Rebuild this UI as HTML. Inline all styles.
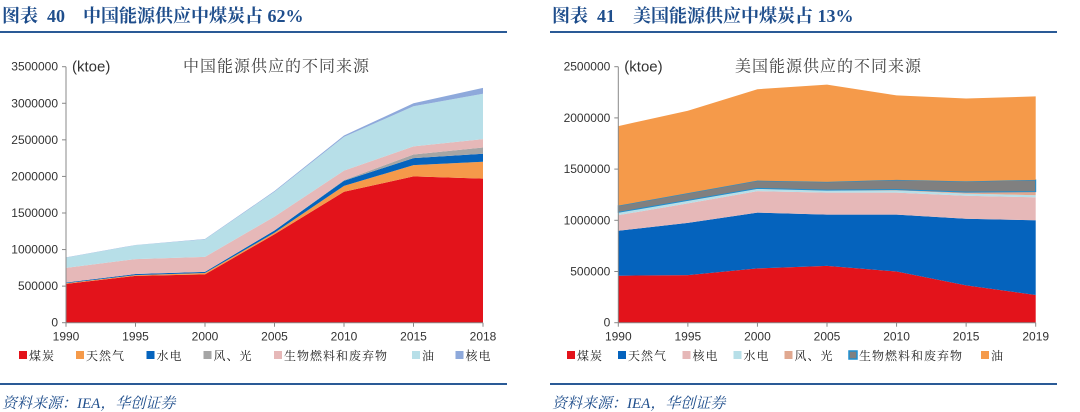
<!DOCTYPE html>
<html><head><meta charset="utf-8">
<style>
html,body{margin:0;padding:0;background:#fff;width:1080px;height:412px;overflow:hidden}
svg{display:block}
text{font-family:"Liberation Sans","Noto Sans CJK SC",sans-serif}
.h{font-family:"Liberation Serif","Noto Serif CJK SC",serif;font-weight:bold;fill:#1f4e8c;font-size:18px;white-space:pre}
.src{font-family:"Liberation Serif","Noto Serif CJK SC",serif;font-style:italic;fill:#1f4e8c;font-size:15px}
.tick{font-size:12px;fill:#333}
.lg{font-size:12px;fill:#222;font-family:"Liberation Sans","Noto Serif CJK SC",serif}
.ct{font-size:16px;fill:#444;font-family:"Noto Serif CJK SC",serif;letter-spacing:1px}
</style></head>
<body>
<svg id="s" width="1080" height="412" xmlns="http://www.w3.org/2000/svg">
<text class="h" x="2" y="22" xml:space="preserve">图表  40    中国能源供应中煤炭占 62%</text>
<line x1="0" y1="32" x2="507" y2="32" stroke="#2a5a96" stroke-width="2"/>
<text class="h" x="552" y="22" xml:space="preserve">图表  41    美国能源供应中煤炭占 13%</text>
<line x1="550" y1="32" x2="1057" y2="32" stroke="#2a5a96" stroke-width="2"/>
<line x1="0" y1="384" x2="507" y2="384" stroke="#2a5a96" stroke-width="2"/>
<line x1="550" y1="384" x2="1057" y2="384" stroke="#2a5a96" stroke-width="2"/>
<text class="src" x="2" y="408">资料来源：IEA，华创证券</text>
<text class="src" x="552" y="408">资料来源：IEA，华创证券</text>
</svg>
<script>
const cnYears=["1990","1995","2000","2005","2010","2015","2018"];
const cnNames=["煤炭","天然气","水电","风、光","生物燃料和废弃物","油","核电"];
const cnColors=["#e3131b","#f59a4a","#0563bd","#a5a5a5","#e6b8b8","#b7dfe8","#8ea9db"];
const cnCoal=[530000,640000,660000,1210000,1790000,2000000,1970000];
const cnGas=[10000,10000,20000,20000,80000,155000,230000];
const cnHydro=[10000,15000,15000,30000,70000,95000,110000];
const cnWind=[0,0,0,2000,10000,50000,85000];
const cnBio=[200000,205000,205000,188000,130000,110000,115000];
const cnOil=[140000,190000,240000,340000,460000,550000,620000];
const cnNuc=[3000,3000,4000,10000,20000,40000,80000];
const cnTicks=[0,500000,1000000,1500000,2000000,2500000,3000000,3500000];

const usYears=["1990","1995","2000","2005","2010","2015","2019"];
const usNames=["煤炭","天然气","核电","水电","风、光","生物燃料和废弃物","油"];
const usColors=["#e3131b","#0563bd","#e6b8b8","#b7dfe8","#e0a890","#808080","#f59a4a"];
const usCoal=[459000,465000,530000,555000,500000,365000,270000];
const usGas=[439000,510000,545000,500000,555000,650000,730000];
const usNuc=[152000,190000,210000,215000,215000,225000,225000];
const usHydro=[25000,25000,22000,20000,22000,20000,20000];
const usWind=[3000,5000,5000,5000,8000,15000,35000];
const usBio=[65000,70000,75000,80000,95000,105000,115000];
const usOil=[777000,805000,893000,950000,825000,810000,815000];
const usTicks=[0,500000,1000000,1500000,2000000,2500000];

const NS="http://www.w3.org/2000/svg";
const svg=document.getElementById("s");
function mk(tag,attrs,parent){const e=document.createElementNS(NS,tag);for(const k in attrs)e.setAttribute(k,attrs[k]);(parent||svg).appendChild(e);return e;}

function chart(cfg){
  const g=mk("g",{});
  
  
  const xs=i=>cfg.x0+(cfg.x1-cfg.x0)*i/(cfg.years.length-1);
  const ys=v=>cfg.y0-(cfg.y0-cfg.yTop)*v/cfg.max;
  let base=cfg.years.map(()=>0);
  cfg.series.forEach((s,si)=>{
    const top=base.map((b,i)=>b+s[i]);
    let d="M"+cfg.years.map((_,i)=>xs(i)+","+ys(top[i])).join(" L");
    for(let i=cfg.years.length-1;i>=0;i--)d+=" L"+xs(i)+","+ys(base[i]);
    d+="Z";
    const p=mk("path",{d:d,fill:cfg.colors[si]},g);
    if(cfg.strokes&&cfg.strokes[si]){p.setAttribute("stroke",cfg.strokes[si]);p.setAttribute("stroke-width","1");}
    
    
    base=top;
  });
  mk("line",{x1:cfg.x0,y1:cfg.yTop,x2:cfg.x0,y2:cfg.y0,stroke:"#888"},g);
  mk("line",{x1:cfg.x0,y1:cfg.y0,x2:cfg.x1,y2:cfg.y0,stroke:"#888"},g);
  cfg.ticks.forEach(t=>{
    mk("line",{x1:cfg.x0-4,y1:ys(t),x2:cfg.x0,y2:ys(t),stroke:"#888"},g);
    const tx=mk("text",{x:cfg.x0-8,y:ys(t)+4,"text-anchor":"end",class:"tick"},g);
    tx.textContent=t;
    
    
  });
  cfg.years.forEach((y,i)=>{
    mk("line",{x1:xs(i),y1:cfg.y0,x2:xs(i),y2:cfg.y0+4,stroke:"#888"},g);
    const tx=mk("text",{x:xs(i),y:cfg.y0+18,"text-anchor":"middle",class:"tick"},g);
    tx.textContent=y;
    
    
  });
  const u=mk("text",{x:cfg.x0+6,y:cfg.yTop+5,class:"tick"},g);
  u.setAttribute("style","font-size:15px");
  u.textContent="(ktoe)";
  
  
  const ct=mk("text",{x:cfg.titleX,y:cfg.yTop+5,class:"ct"},g);
  ct.textContent=cfg.title;
  
  
  let lx=cfg.legX;
  cfg.names.forEach((n,i)=>{
    const r=mk("rect",{x:lx,y:351,width:8,height:8,fill:cfg.colors[i]},g);
    if(cfg.strokes&&cfg.strokes[i]){r.setAttribute("stroke",cfg.strokes[i]);r.setAttribute("stroke-width","1.5");}
    
    
    const t=mk("text",{x:lx+10,y:360,class:"lg"},g);
    t.setAttribute("style","letter-spacing:1px");
    t.textContent=n;
    
    
    lx+=10+n.length*13.5+cfg.legGap;
  });
}
chart({name:"china-energy-chart",x0:66,x1:483,y0:322.7,yTop:66.7,max:3500000,years:cnYears,
  series:[cnCoal,cnGas,cnHydro,cnWind,cnBio,cnOil,cnNuc],colors:cnColors,names:cnNames,
  keys:["coal","gas","hydro","wind-solar","biofuel","oil","nuclear"],ticks:cnTicks,
  title:"中国能源供应的不同来源",titleX:183,legX:19,legGap:20});
chart({name:"us-energy-chart",x0:618.3,x1:1035.7,y0:322.7,yTop:66.7,max:2500000,years:usYears,
  series:[usCoal,usGas,usNuc,usHydro,usWind,usBio,usOil],colors:usColors,names:usNames,
  strokes:[null,null,null,null,null,"#1f8fd0",null],
  keys:["coal","gas","nuclear","hydro","wind-solar","biofuel","oil"],ticks:usTicks,
  title:"美国能源供应的不同来源",titleX:735,legX:567,legGap:14});
</script>
</body></html>
